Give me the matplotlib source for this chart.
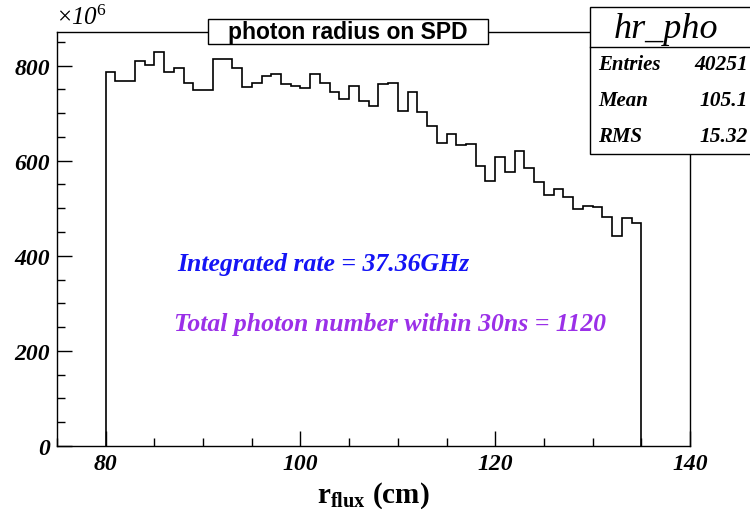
import numpy as np
import matplotlib.pyplot as plt
from matplotlib.patches import Rectangle
from matplotlib.ticker import MultipleLocator

plt.rcParams.update({'font.family': 'serif', 'font.serif': ['Liberation Serif'],
                     'mathtext.fontset': 'custom',
                     'mathtext.rm': 'Liberation Serif',
                     'mathtext.it': 'Liberation Serif:italic',
                     'mathtext.bf': 'Liberation Serif:bold'})

# histogram contents (x10^6), 1 cm bins from 80 to 135 cm
bin_edges = np.arange(80, 136, 1)
rates = [786, 767, 767, 810, 801, 829, 786, 794, 763, 748,
         748, 813, 813, 794, 755, 763, 777, 782, 761, 756,
         753, 782, 763, 744, 729, 756, 726, 714, 761, 763,
         704, 744, 702, 672, 638, 657, 632, 636, 588, 558,
         607, 577, 620, 584, 556, 528, 540, 524, 499, 504,
         502, 481, 442, 479, 469]

hist_name = "hr_pho"
stat_names = ["Entries", "Mean", "RMS"]
stat_values = ["40251", "105.1", "15.32"]
title = "photon radius on SPD"
note_rate = "Integrated rate = 37.36GHz"
note_count = "Total photon number within 30ns = 1120"

W, H = 750, 510
fig = plt.figure(figsize=(7.5, 5.1), dpi=100)
ax = fig.add_axes([57 / W, 1 - 447 / H, 633 / W, 414 / H])

ax.stairs(rates, bin_edges, baseline=0, color='black', lw=1.2)

ax.set_xlim(75, 140)
ax.set_ylim(0, 1.05 * max(rates))
ax.xaxis.set_major_locator(MultipleLocator(20))
ax.xaxis.set_minor_locator(MultipleLocator(5))
ax.yaxis.set_major_locator(MultipleLocator(200))
ax.yaxis.set_minor_locator(MultipleLocator(50))
ax.tick_params(which='both', direction='in', top=False, right=False, width=1)
ax.tick_params(which='major', length=11)
ax.tick_params(which='minor', length=6)
ax.tick_params(axis='x', pad=5)
ax.tick_params(axis='y', pad=5)
for lab in ax.get_xticklabels() + ax.get_yticklabels():
    lab.set_fontsize(17)
    lab.set_fontweight('bold')
    lab.set_fontstyle('italic')
for sp in ax.spines.values():
    sp.set_linewidth(1)

ax.set_xlabel(r"$\mathbf{r_{flux}}$ (cm)", fontsize=21, fontweight='bold', labelpad=4)

fig.text(57 / W, 1 - 30 / H, r"$\times$10$^{\mathit{6}}$", fontsize=18, style='italic',
         ha='left', va='bottom')

# title box
fig.patches.append(Rectangle((208 / W, 1 - 45 / H), 280 / W, 25 / H, transform=fig.transFigure,
                             fc='white', ec='black', lw=1))
fig.text(348 / W, 1 - 33 / H, title, fontsize=16.5, fontweight='bold', family='Liberation Sans',
         ha='center', va='center')

ax.text(0.19, 0.425, note_rate, transform=ax.transAxes, color='#1414f5',
        fontsize=18.5, fontweight='bold', style='italic')
ax.text(0.185, 0.28, note_count, transform=ax.transAxes, color='#9b30e8',
        fontsize=18.5, fontweight='bold', style='italic')

# stats box
x0, y0, x1, y1 = 590 / W, 1 - 155 / H, 1.01, 1 - 8 / H
fig.patches.append(Rectangle((x0, y0), x1 - x0, y1 - y0, transform=fig.transFigure,
                             fc='white', ec='black', lw=1))
ysep = 1 - 48 / H
fig.add_artist(plt.Line2D([x0, x1], [ysep, ysep], transform=fig.transFigure, color='black', lw=1))
fig.text(666 / W, 1 - 29 / H, hist_name, fontsize=26, style='italic',
         ha='center', va='center')
for i, (nm, val) in enumerate(zip(stat_names, stat_values)):
    yy = 1 - (65 + 36 * i) / H
    fig.text(598 / W, yy, nm, fontsize=15, fontweight='bold', style='italic', va='center')
    fig.text(748 / W, yy, val, fontsize=15.5, fontweight='bold', style='italic',
             va='center', ha='right')

fig.savefig("out.png", dpi=100)
